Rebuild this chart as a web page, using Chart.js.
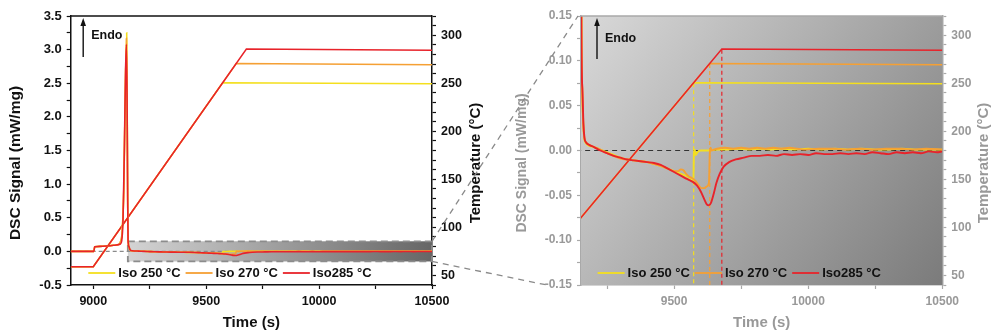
<!DOCTYPE html>
<html>
<head>
<meta charset="utf-8">
<script src="https://cdn.jsdelivr.net/npm/chart.js@4.4.1/dist/chart.umd.min.js"></script>
<style>
  html, body { margin: 0; padding: 0; background: #fff; }
  #fig { position: relative; width: 992px; height: 334px; }
  .panel { position: absolute; top: 0; height: 334px; }
  #p1 { left: 0; width: 490px; }
  #p2 { left: 490px; width: 502px; }
  #links { position: absolute; left: 0; top: 0; pointer-events: none; }
</style>
</head>
<body>
<div id="fig">
  <div class="panel" id="p1"><canvas id="full"></canvas></div>
  <div class="panel" id="p2"><canvas id="zoom"></canvas></div>
  <canvas id="links" width="992" height="334"></canvas>
</div>
<script>
// ---- data ----
const seriesLabels = ['Iso 250 °C', 'Iso 270 °C', 'Iso285 °C'];
const seriesColors = ['#f4df1e', '#f5a034', '#e8232a'];

// time at which each run reaches its isothermal set point
const holdStart = [9573, 9633, 9678];
const holdTemp = [250, 270, 285];

// temperature program (°C)
const tempTime250 = [8900, 9000, 9573, 10500];
const temp250 = [59, 59, 250.6, 249.4];
const tempTime270 = [8900, 9000, 9633, 10500];
const temp270 = [59, 59, 270.6, 269.3];
const tempTime285 = [8900, 9000, 9678, 10500];
const temp285 = [59, 59, 285.6, 284.3];

// DSC signal (mW/mg)
const dscTime250 = [8900, 9003, 9006, 9030, 9060, 9090, 9110, 9120, 9128, 9135, 9141, 9148, 9151, 9153, 9155,
  9158, 9162, 9166, 9172, 9185, 9200, 9225, 9250, 9275, 9300, 9325, 9350, 9375, 9400, 9425, 9450, 9475,
  9500, 9525, 9550, 9565, 9572, 9574, 9577, 9581, 9585, 9590, 9600, 9630, 9660, 9700, 9740, 9780, 9820,
  9860, 9900, 9950, 10000, 10050, 10100, 10150, 10200, 10250, 10300, 10350, 10400, 10450, 10500];
const dsc250 = [0, 0, 0.07, 0.075, 0.08, 0.09, 0.1, 0.14, 0.3, 0.9, 2.2, 3.25, 1.6, 0.5, 0.15,
  0.06, 0.026, 0.012, 0.008, 0.005, 0.004, 0.001, -0.002, -0.005, -0.008, -0.010, -0.011, -0.012,
  -0.013, -0.015, -0.017, -0.020, -0.023, -0.026, -0.029, -0.032, -0.034, -0.002, 0.001, -0.005,
  -0.003, -0.001, 0.0, 0.0, 0.001, 0.001, 0.002, 0.001, 0.002, 0.001, 0.002, 0.001, 0.002, 0.001,
  0.002, 0.001, 0.002, 0.001, 0.001, 0.002, 0.001, 0.001, 0.001];

const dscTime270 = [8900, 9003, 9006, 9030, 9060, 9090, 9110, 9120, 9128, 9135, 9141, 9147, 9151, 9153, 9155,
  9158, 9162, 9166, 9172, 9185, 9200, 9225, 9250, 9275, 9300, 9325, 9350, 9375, 9400, 9425, 9450, 9475,
  9500, 9515, 9525, 9535, 9545, 9555, 9568, 9580, 9592, 9603, 9613, 9622, 9630, 9633, 9636, 9640, 9648,
  9660, 9690, 9720, 9750, 9780, 9810, 9840, 9870, 9900, 9930, 9960, 9990, 10040, 10090, 10140, 10190,
  10240, 10290, 10340, 10390, 10440, 10500];
const dsc270 = [0, 0, 0.07, 0.075, 0.08, 0.09, 0.1, 0.14, 0.3, 0.9, 2.2, 3.17, 1.6, 0.5, 0.15,
  0.065, 0.028, 0.013, 0.009, 0.006, 0.004, 0.001, -0.003, -0.006, -0.009, -0.010, -0.011, -0.012,
  -0.013, -0.015, -0.017, -0.020, -0.023, -0.023, -0.021, -0.022, -0.026, -0.029, -0.031, -0.034,
  -0.039, -0.042, -0.042, -0.040, -0.036, -0.004, 0.003, 0.0, 0.001, 0.002, 0.003, 0.002, 0.003,
  0.002, 0.003, 0.002, 0.003, 0.002, 0.003, 0.002, 0.001, 0.002, 0.002, 0.001, 0.002, 0.001, 0.002,
  0.002, 0.001, 0.002, 0.001];

const dscTime285 = [8900, 9003, 9006, 9030, 9060, 9090, 9110, 9120, 9126, 9132, 9138, 9143, 9147, 9150, 9152,
  9154, 9158, 9162, 9166, 9172, 9185, 9200, 9225, 9250, 9275, 9300, 9325, 9350, 9375, 9400, 9425, 9450,
  9475, 9500, 9525, 9550, 9570, 9585, 9600, 9612, 9622, 9630, 9638, 9648, 9658, 9670, 9685, 9705, 9730,
  9760, 9790, 9820, 9850, 9880, 9910, 9940, 9970, 10000, 10030, 10060, 10090, 10120, 10150, 10180,
  10210, 10240, 10270, 10300, 10330, 10360, 10390, 10420, 10450, 10480, 10500];
const dsc285 = [0, 0, 0.07, 0.075, 0.08, 0.09, 0.1, 0.11, 0.16, 0.5, 1.6, 2.7, 3.08, 2.1, 0.9,
  0.16, 0.07, 0.03, 0.014, 0.009, 0.006, 0.004, 0.0, -0.003, -0.006, -0.008, -0.010, -0.011, -0.012,
  -0.013, -0.014, -0.016, -0.020, -0.024, -0.028, -0.032, -0.035, -0.039, -0.046, -0.054, -0.060,
  -0.061, -0.058, -0.048, -0.036, -0.026, -0.018, -0.013, -0.010, -0.008, -0.006, -0.006, -0.005,
  -0.006, -0.004, -0.005, -0.004, -0.005, -0.003, -0.004, -0.004, -0.003, -0.004, -0.003, -0.004,
  -0.002, -0.003, -0.004, -0.002, -0.003, -0.002, -0.003, -0.001, -0.002, -0.001];

const tempSeries = [[tempTime250, temp250], [tempTime270, temp270], [tempTime285, temp285]];
const dscSeries = [[dscTime250, dsc250], [dscTime270, dsc270], [dscTime285, dsc285]];

// axis ranges
const fullX = [8900, 10500];
const fullY = [-0.5, 3.5];
const zoomX = [9153, 10500];
const zoomY = [-0.15, 0.15];
const tempRange = [40, 320];

const FONT = "'Liberation Sans', Arial, sans-serif";
Chart.defaults.font.family = FONT;

const pts = (xs, ys) => xs.map((x, i) => ({ x, y: ys[i] }));

function buildDatasets(zoomed) {
  const ds = [];
  dscSeries.forEach(([t, v], i) => ds.push({
    data: pts(t, v), yAxisID: 'y', borderColor: seriesColors[i],
    borderWidth: zoomed ? 1.9 : 1.6, cubicInterpolationMode: 'monotone', order: 3 - i
  }));
  tempSeries.forEach(([t, v], i) => ds.push({
    data: pts(t, v), yAxisID: 'yT', borderColor: seriesColors[i], borderWidth: 1.5, order: 6 - i
  }));
  if (zoomed) {
    holdStart.forEach((t, i) => ds.push({
      data: [{ x: t, y: holdTemp[i] }, { x: t, y: tempRange[0] }], yAxisID: 'yT',
      borderColor: seriesColors[i], borderWidth: 1.2, borderDash: [4, 3], order: 7
    }));
  }
  ds.push({
    data: [{ x: fullX[0], y: 0 }, { x: fullX[1], y: 0 }], yAxisID: 'y',
    borderColor: zoomed ? '#333' : '#8a8a8a', borderWidth: 1.2, borderDash: zoomed ? [5, 4] : [4, 3], order: 8
  });
  return ds;
}

function axis(o) {
  return {
    type: 'linear', position: o.position, min: o.range[0], max: o.range[1],
    afterFit: o.fit,
    title: { display: false },
    ticks: {
      stepSize: o.step, autoSkip: false, includeBounds: false, maxRotation: 0, padding: 5,
      color: o.text, font: { size: o.size, weight: 'bold' }, callback: o.label
    },
    grid: { drawOnChartArea: false, tickLength: 4, tickColor: o.line, tickWidth: 1.2 },
    border: { color: o.line, width: 1.5 }
  };
}

const onStep = (v, s) => Math.abs(v / s - Math.round(v / s)) < 1e-6;

function vText(ctx, text, x, y) {
  ctx.save();
  ctx.translate(x, y);
  ctx.rotate(-Math.PI / 2);
  ctx.fillText(text, 0, 0);
  ctx.restore();
}

// panel decorations: shading, frame top edge, axis titles, inline legend and the Endo arrow
const decor = {
  id: 'decor',
  beforeDatasetsDraw(chart, args, opts) {
    const { ctx, chartArea: a, scales } = chart;
    ctx.save();
    if (opts.shadeArea) {
      const g = ctx.createLinearGradient(a.left, a.top, a.right, a.bottom);
      g.addColorStop(0, '#d9d9d9');
      g.addColorStop(1, '#7b7b7b');
      ctx.fillStyle = g;
      ctx.fillRect(a.left, a.top, a.width, a.height);
    }
    if (opts.box) {
      const x0 = scales.x.getPixelForValue(zoomX[0]), x1 = scales.x.getPixelForValue(zoomX[1]);
      const y0 = scales.y.getPixelForValue(zoomY[1]), y1 = scales.y.getPixelForValue(zoomY[0]);
      const g = ctx.createLinearGradient(x0, 0, x1, 0);
      g.addColorStop(0, '#d4d4d4');
      g.addColorStop(1, '#666666');
      ctx.fillStyle = g;
      ctx.fillRect(x0, y0, x1 - x0, y1 - y0);
      ctx.setLineDash([7, 4]);
      ctx.strokeStyle = '#8c8c8c';
      ctx.lineWidth = 1.8;
      ctx.strokeRect(x0, y0, x1 - x0, y1 - y0);
    }
    ctx.restore();
  },
  afterDatasetsDraw(chart, args, opts) {
    const { ctx, chartArea: a } = chart;
    ctx.save();
    // top edge of the frame
    ctx.strokeStyle = opts.frame;
    ctx.lineWidth = 1.5;
    ctx.beginPath();
    ctx.moveTo(a.left, a.top);
    ctx.lineTo(a.right, a.top);
    ctx.stroke();

    // axis titles
    ctx.fillStyle = opts.titleColor;
    ctx.textAlign = 'center';
    ctx.textBaseline = 'middle';
    ctx.font = `bold 15px ${FONT}`;
    ctx.fillText('Time (s)', (a.left + a.right) / 2, 323);
    vText(ctx, 'Temperature (°C)', opts.tempTitleX, 163);
    ctx.font = `bold ${opts.dscTitleSize}px ${FONT}`;
    vText(ctx, 'DSC Signal (mW/mg)', opts.dscTitleX, 163);
    ctx.textAlign = 'left';

    // Endo arrow
    const ax = a.left + opts.arrowX;
    ctx.strokeStyle = '#111';
    ctx.fillStyle = '#111';
    ctx.lineWidth = 1.4;
    ctx.beginPath();
    ctx.moveTo(ax, a.top + opts.arrowBottom);
    ctx.lineTo(ax, a.top + 8);
    ctx.stroke();
    ctx.beginPath();
    ctx.moveTo(ax, a.top + 2);
    ctx.lineTo(ax - 2.8, a.top + 10);
    ctx.lineTo(ax + 2.8, a.top + 10);
    ctx.closePath();
    ctx.fill();
    ctx.font = `bold 12.5px ${FONT}`;
    ctx.fillText('Endo', ax + 8, a.top + opts.endoY);

    // legend along the bottom of the plot
    let x = a.left + opts.legendX;
    const y = a.bottom - 12;
    ctx.font = `bold 13px ${FONT}`;
    seriesLabels.forEach((lab, i) => {
      ctx.strokeStyle = seriesColors[i];
      ctx.lineWidth = 1.8;
      ctx.beginPath();
      ctx.moveTo(x, y);
      ctx.lineTo(x + 27, y);
      ctx.stroke();
      x += 30;
      ctx.fillStyle = '#111';
      ctx.fillText(lab, x, y);
      x += ctx.measureText(lab).width + 5;
    });
    ctx.restore();
  }
};

function panel(id, zoomed) {
  const text = zoomed ? '#999999' : '#111111';
  const line = zoomed ? '#a9a9a9' : '#111111';
  const size = zoomed ? 12 : 12.5;
  return new Chart(document.getElementById(id), {
    type: 'line',
    data: { datasets: buildDatasets(zoomed) },
    plugins: [decor],
    options: {
      responsive: true,
      maintainAspectRatio: false,
      animation: false,
      events: [],
      layout: { padding: { top: 16, left: 0, right: 0, bottom: 0 } },
      elements: { point: { radius: 0 }, line: { tension: 0 } },
      scales: {
        x: axis({
          position: 'bottom', range: zoomed ? zoomX : fullX, step: 250, text, line, size,
          fit: s => { s.height = 49; },
          label: v => onStep(v, 500) ? String(v) : ''
        }),
        y: axis({
          position: 'left', range: zoomed ? zoomY : fullY, step: zoomed ? 0.025 : 0.25, text, line,
          size: zoomed ? 12 : 13, fit: s => { s.width = zoomed ? 91 : 70.7; },
          label: zoomed ? (v => onStep(v, 0.05) ? v.toFixed(2) : '') : (v => onStep(v, 0.5) ? v.toFixed(1) : '')
        }),
        yT: axis({
          position: 'right', range: tempRange, step: 10, text, line, size,
          fit: s => { s.width = zoomed ? 49.7 : 58; },
          label: v => onStep(v, 50) ? String(v) : ''
        })
      },
      plugins: {
        legend: { display: false },
        tooltip: { enabled: false },
        decor: zoomed
          ? { shadeArea: true, box: false, frame: line, titleColor: text, dscTitleX: 32, dscTitleSize: 14,
              tempTitleX: 494, arrowX: 16, arrowBottom: 43, endoY: 23, legendX: 16.6 }
          : { shadeArea: false, box: true, frame: line, titleColor: text, dscTitleX: 16, dscTitleSize: 15.5,
              tempTitleX: 476, arrowX: 12.5, arrowBottom: 41, endoY: 20, legendX: 17.6 }
      }
    }
  });
}

const full = panel('full', false);
const zoom = panel('zoom', true);

// dashed guides from the marked region to the enlarged panel
const lc = document.getElementById('links').getContext('2d');
const off = document.getElementById('p2').offsetLeft;
const bx = full.scales.x.getPixelForValue(zoomX[1]);
const bTop = full.scales.y.getPixelForValue(zoomY[1]);
const bBot = full.scales.y.getPixelForValue(zoomY[0]);
const za = zoom.chartArea;
lc.setLineDash([6, 5]);
lc.strokeStyle = '#8a8a8a';
lc.lineWidth = 1.3;
lc.beginPath();
lc.moveTo(bx, bTop);
lc.lineTo(off + za.left - 3, za.top);
lc.moveTo(bx, bBot);
lc.lineTo(off + za.left - 34, za.bottom);
lc.stroke();
</script>
</body>
</html>
